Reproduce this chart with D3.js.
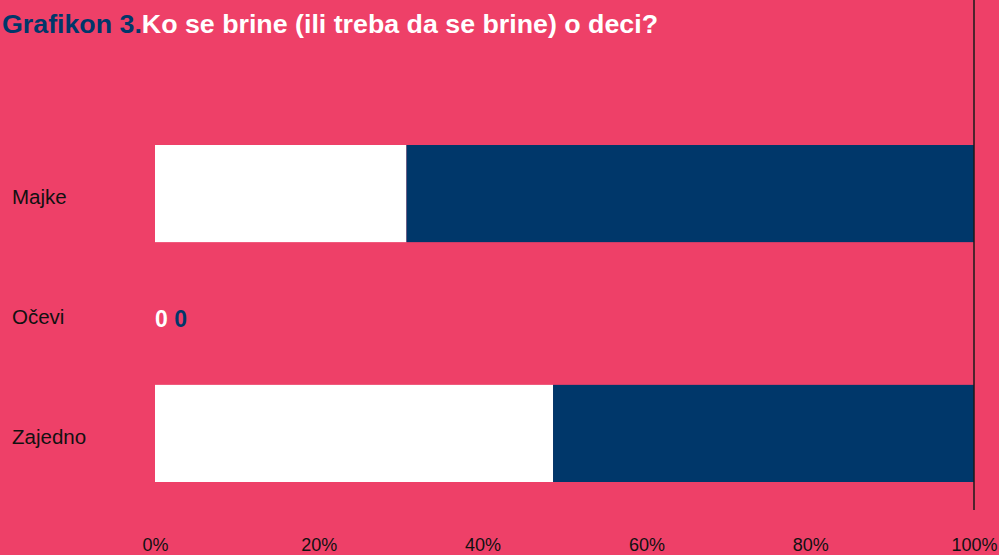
<!DOCTYPE html>
<html>
<head>
<meta charset="utf-8">
<script src="https://cdn.jsdelivr.net/npm/d3@7"></script>
<style>
  html, body { margin: 0; padding: 0; background: #EE4068; }
  #chart { width: 999px; height: 555px; }
</style>
</head>
<body>
<div id="chart"></div>
<script>
const categories = ["Majke", "Očevi", "Zajedno"];
const whiteValues = [30.7, 0, 48.6];
const blueValues = [69.3, 0, 51.4];
const tickValues = [0, 20, 40, 60, 80, 100];

const colors = { white: "#FFFFFF", blue: "#00376A", bg: "#EE4068" };

function drawChart() {
  const width = 999, height = 555;
  const svg = d3.select("#chart").append("svg")
      .attr("width", width)
      .attr("height", height);

  svg.append("rect")
      .attr("width", width)
      .attr("height", height)
      .attr("fill", colors.bg);

  // title
  const title = svg.append("text")
      .attr("x", 2)
      .attr("y", 33)
      .style("font-family", "'Liberation Sans', Arial, sans-serif")
      .style("font-weight", "bold")
      .style("font-size", "26.5px")
      .attr("textLength", 656)
      .attr("lengthAdjust", "spacingAndGlyphs");
  title.append("tspan").attr("fill", colors.blue).text("Grafikon 3.");
  title.append("tspan").attr("fill", "#FFFFFF").text("Ko se brine (ili treba da se brine) o deci?");

  const x = d3.scaleLinear().domain([0, 100]).range([155, 974]);
  const y = d3.scaleBand().domain(categories).range([145, 482]).paddingInner(0.19).paddingOuter(0);

  const rows = categories.map((c, i) => ({ cat: c, w: whiteValues[i], b: blueValues[i] }));

  // white part
  svg.selectAll("rect.white")
    .data(rows.filter(d => d.w > 0))
    .enter().append("rect")
      .attr("class", "white")
      .attr("x", x(0))
      .attr("y", d => y(d.cat))
      .attr("width", d => x(d.w) - x(0))
      .attr("height", y.bandwidth())
      .attr("fill", colors.white);

  // blue part
  svg.selectAll("rect.blue")
    .data(rows.filter(d => d.b > 0))
    .enter().append("rect")
      .attr("class", "blue")
      .attr("x", d => x(d.w))
      .attr("y", d => y(d.cat))
      .attr("width", d => x(d.w + d.b) - x(d.w))
      .attr("height", y.bandwidth())
      .attr("fill", colors.blue);

  // zero labels
  rows.filter(d => d.w === 0 && d.b === 0).forEach(d => {
    const cy = y(d.cat) + y.bandwidth() / 2;
    const t = svg.append("text")
        .attr("x", x(0))
        .attr("y", cy + 5)
        .attr("dy", "0.36em")
        .style("font-family", "'Liberation Sans', Arial, sans-serif")
        .style("font-weight", "bold")
        .style("font-size", "23px");
    t.append("tspan").attr("fill", colors.white).text(d.w);
    t.append("tspan").attr("fill", colors.blue).text(" " + d.b);
  });

  // category labels
  svg.selectAll("text.cat")
    .data(categories)
    .enter().append("text")
      .attr("class", "cat")
      .attr("x", 12)
      .attr("y", d => y(d) + y.bandwidth() / 2 + 3)
      .attr("dy", "0.36em")
      .style("font-family", "'Liberation Sans', Arial, sans-serif")
      .style("font-size", "20.5px")
      .attr("fill", "#111")
      .text(d => d);

  // 100% line
  svg.append("line")
      .attr("x1", x(100)).attr("x2", x(100))
      .attr("y1", 0).attr("y2", 510)
      .attr("stroke", "#1a1a1a")
      .attr("stroke-width", 1.5);

  // x axis labels
  const axis = svg.append("g")
      .attr("transform", "translate(0,535)")
      .call(d3.axisBottom(x).tickValues(tickValues).tickFormat(d => d + "%").tickSize(0));
  axis.select(".domain").remove();
  axis.selectAll("text")
      .style("font-family", "'Liberation Sans', Arial, sans-serif")
      .style("font-size", "18px")
      .attr("fill", "#111");
}

drawChart();
</script>
</body>
</html>
